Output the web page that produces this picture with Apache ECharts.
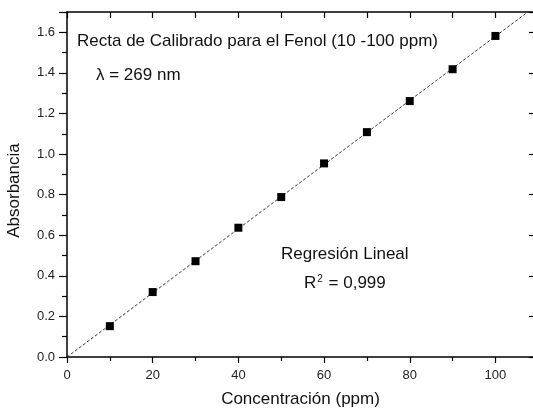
<!DOCTYPE html>
<html>
<head>
<meta charset="utf-8">
<script src="https://cdn.jsdelivr.net/npm/echarts@6/dist/echarts.min.js"></script>
<style>
  html, body { margin: 0; padding: 0; background: #fff; }
  #chart { width: 533px; height: 410px; }
</style>
</head>
<body>
<div id="chart"></div>
<script>
// Calibration standards: phenol concentration (ppm) and measured absorbance
const concentration = [10, 20, 30, 40, 50, 60, 70, 80, 90, 100];
const absorbance = [0.152, 0.320, 0.472, 0.637, 0.788, 0.954, 1.108, 1.261, 1.418, 1.582];

// Axis ranges
const xRange = [0, 109];
const yRange = [0, 1.7];

// Least-squares fit of absorbance against concentration
function linearFit(xs, ys) {
  const n = xs.length;
  const mx = xs.reduce((a, b) => a + b, 0) / n;
  const my = ys.reduce((a, b) => a + b, 0) / n;
  let sxy = 0, sxx = 0;
  for (let i = 0; i < n; i++) {
    sxy += (xs[i] - mx) * (ys[i] - my);
    sxx += (xs[i] - mx) * (xs[i] - mx);
  }
  const slope = sxy / sxx;
  return { slope: slope, intercept: my - slope * mx };
}
const fit = linearFit(concentration, absorbance);
const fitLine = [
  [xRange[0], fit.intercept + fit.slope * xRange[0]],
  [xRange[1], fit.intercept + fit.slope * xRange[1]]
];

const FONT = 'Liberation Sans, Arial, sans-serif';
const AXIS_COLOR = '#000';
const TEXT_COLOR = '#111';

const chart = echarts.init(document.getElementById('chart'), null, { renderer: 'canvas' });

chart.setOption({
  animation: false,
  backgroundColor: '#fff',
  // the right-hand frame line sits at the canvas edge
  grid: { left: 67, right: -1, top: 12, bottom: 53, containLabel: false, outerBoundsMode: 'none' },
  xAxis: [
    {
      type: 'value', position: 'bottom', min: xRange[0], max: xRange[1], interval: 20,
      name: 'Concentración (ppm)', nameLocation: 'middle', nameGap: 34,
      nameTextStyle: { fontFamily: FONT, fontSize: 17, color: TEXT_COLOR },
      axisLine: { show: true, onZero: false, lineStyle: { color: AXIS_COLOR, width: 1.5 } },
      axisTick: { show: true, inside: false, length: 6, lineStyle: { color: AXIS_COLOR, width: 1.2 } },
      minorTick: { show: true, splitNumber: 2, length: 4, lineStyle: { color: AXIS_COLOR, width: 1.2 } },
      axisLabel: {
        fontFamily: FONT, fontSize: 13, color: '#222', margin: 12,
        formatter: v => (v % 20 === 0 ? String(v) : '')
      },
      splitLine: { show: false }
    },
    {
      type: 'value', position: 'top', min: xRange[0], max: xRange[1], interval: 10,
      axisLine: { show: true, onZero: false, lineStyle: { color: AXIS_COLOR, width: 1.5 } },
      axisTick: { show: true, inside: true, length: 6, lineStyle: { color: AXIS_COLOR, width: 1.2 } },
      axisLabel: { show: false },
      splitLine: { show: false }
    }
  ],
  yAxis: [
    {
      type: 'value', position: 'left', min: yRange[0], max: yRange[1], interval: 0.2,
      name: 'Absorbancia', nameLocation: 'middle', nameGap: 44, nameRotate: 90,
      nameTextStyle: { fontFamily: FONT, fontSize: 17, color: TEXT_COLOR, padding: [0, 12, 0, 0] },
      axisLine: { show: true, onZero: false, lineStyle: { color: AXIS_COLOR, width: 1.5 } },
      axisTick: { show: true, inside: false, length: 8, lineStyle: { color: AXIS_COLOR, width: 1.2 } },
      minorTick: { show: true, splitNumber: 2, length: 5, lineStyle: { color: AXIS_COLOR, width: 1.2 } },
      axisLabel: {
        fontFamily: FONT, fontSize: 13, color: '#222', margin: 12,
        formatter: v => {
          const r = Math.round(v * 10);
          return r % 2 === 0 ? (r / 10).toFixed(1) : '';
        }
      },
      splitLine: { show: false }
    },
    {
      type: 'value', position: 'right', min: yRange[0], max: yRange[1], interval: 0.2,
      axisLine: { show: true, onZero: false, lineStyle: { color: AXIS_COLOR, width: 1.5 } },
      axisTick: { show: true, inside: true, length: 5, lineStyle: { color: AXIS_COLOR, width: 1.2 } },
      axisLabel: { show: false },
      splitLine: { show: false }
    }
  ],
  series: [
    {
      name: 'Ajuste lineal',
      type: 'line',
      data: fitLine,
      showSymbol: false,
      symbol: 'none',
      clip: true,
      lineStyle: { color: '#222', width: 0.9, type: [3, 2] },
      z: 2
    },
    {
      name: 'Absorbancia',
      type: 'scatter',
      data: concentration.map((c, i) => [c, absorbance[i]]),
      symbol: 'rect',
      symbolSize: 8,
      itemStyle: { color: '#000', opacity: 1 },
      z: 3
    }
  ],
  graphic: [
    {
      type: 'text', left: 77, top: 33,
      style: { text: 'Recta de Calibrado para el Fenol (10 -100 ppm)', font: '17px ' + FONT, fill: TEXT_COLOR }
    },
    {
      type: 'text', left: 96, top: 67,
      style: { text: 'λ = 269 nm', font: '17px ' + FONT, fill: TEXT_COLOR }
    },
    {
      type: 'text', left: 281, top: 246,
      style: { text: 'Regresión Lineal', font: '17px ' + FONT, fill: TEXT_COLOR }
    },
    {
      type: 'text', left: 304, top: 274,
      style: {
        text: 'R{sup|2} = 0,999',
        font: '17px ' + FONT, fill: TEXT_COLOR,
        rich: { sup: { fontSize: 10, fontFamily: FONT, fill: TEXT_COLOR, verticalAlign: 'top', padding: [0, 1, 8, 1] } }
      }
    }
  ]
});
</script>
</body>
</html>
